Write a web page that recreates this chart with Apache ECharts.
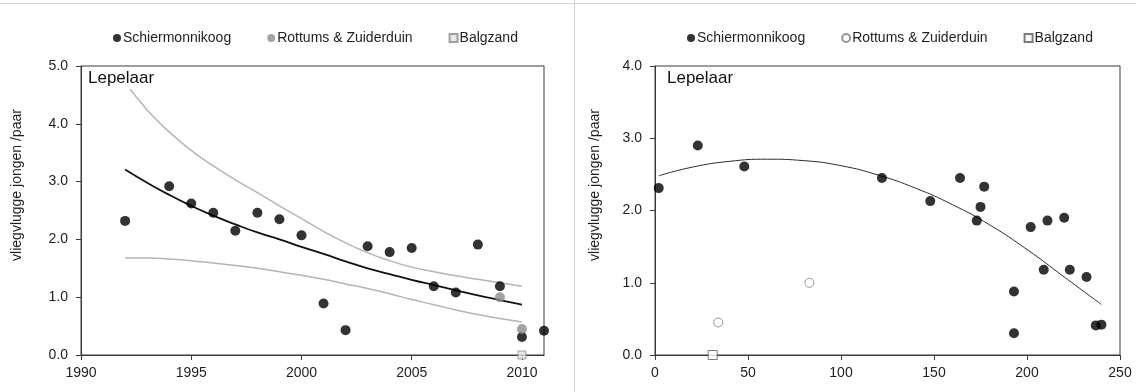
<!DOCTYPE html>
<html>
<head>
<meta charset="utf-8">
<script src="https://cdn.jsdelivr.net/npm/echarts@6/dist/echarts.min.js"></script>
<style>
  html, body { margin: 0; padding: 0; background: #fff; }
  #frame { position: absolute; left: 0; top: 3px; width: 1136px; height: 389px; border-top: 1px solid #d4d4d4; }
  #left { position: absolute; left: 0; top: 0; width: 574px; height: 392px; }
  #right { position: absolute; left: 574px; top: 0; width: 562px; height: 392px; border-left: 1px solid #d4d4d4; box-sizing: border-box; }
</style>
</head>
<body>
<div id="frame"></div>
<div id="left"></div>
<div id="right"></div>
<script>
// Lepelaar (spoonbill) breeding success: fledged young per pair
const FONT = '"Liberation Sans", Arial, sans-serif';
const names = ['Schiermonnikoog', 'Rottums & Zuiderduin', 'Balgzand'];
const yName = 'vliegvlugge jongen /paar';
const speciesLabel = 'Lepelaar';

// Panel 1: by year
const yearsSchier = [1992, 1994, 1995, 1996, 1997, 1998, 1999, 2000, 2001, 2002, 2003, 2004, 2005, 2006, 2007, 2008, 2009, 2010, 2011];
const valsSchier  = [2.32, 2.92, 2.62, 2.46, 2.15, 2.46, 2.35, 2.07, 0.89, 0.43, 1.88, 1.78, 1.85, 1.19, 1.08, 1.91, 1.19, 0.31, 0.42];
const yearsRottum = [2009, 2010];
const valsRottum  = [1.00, 0.45];
const yearsBalg   = [2010];
const valsBalg    = [0.0];

// fitted trend with its upper and lower band, read per year
const trendYears = [1992, 1993, 1994, 1995, 1996, 1997, 1998, 1999, 2000, 2001, 2002, 2003, 2004, 2005, 2006, 2007, 2008, 2009, 2010];
const trendFit   = [3.21, 2.98, 2.77, 2.58, 2.41, 2.26, 2.12, 2.00, 1.87, 1.75, 1.62, 1.50, 1.40, 1.30, 1.21, 1.12, 1.03, 0.95, 0.87];
const trendUpper = [4.72, 4.24, 3.86, 3.54, 3.27, 3.03, 2.81, 2.58, 2.36, 2.14, 1.94, 1.77, 1.63, 1.52, 1.44, 1.37, 1.31, 1.25, 1.19];
const trendLower = [1.68, 1.68, 1.66, 1.63, 1.59, 1.55, 1.50, 1.44, 1.38, 1.31, 1.23, 1.15, 1.06, 0.96, 0.87, 0.78, 0.70, 0.63, 0.57];

// Panel 2: by second variable (0-250)
const xSchier2 = [2, 23, 48, 122, 148, 164, 177, 175, 173, 202, 211, 220, 193, 193, 209, 223, 232, 237, 240];
const ySchier2 = [2.31, 2.90, 2.61, 2.45, 2.13, 2.45, 2.33, 2.05, 1.86, 1.77, 1.86, 1.90, 0.88, 0.30, 1.18, 1.18, 1.08, 0.41, 0.42];
const xRottum2 = [34, 83];
const yRottum2 = [0.45, 1.00];
const xBalg2   = [31];
const yBalg2   = [0.0];
const curveX   = [2, 20, 40, 60, 80, 100, 120, 140, 160, 180, 200, 220, 240];
const curveY   = [2.48, 2.60, 2.68, 2.71, 2.69, 2.62, 2.49, 2.31, 2.08, 1.80, 1.46, 1.08, 0.70];

const xAxisTicksLeft  = { min: 1990, max: 2011, interval: 5 };
const yAxisTicksLeft  = { min: 0, max: 5, interval: 1 };
const xAxisTicksRight = { min: 0, max: 250, interval: 50 };
const yAxisTicksRight = { min: 0, max: 4, interval: 1 };

const pairs = (xs, ys) => xs.map((x, i) => [x, ys[i]]);

const textColor = '#1e1e1e';
const axisColor = '#3a3a3a';

function axisX(t) {
  return {
    type: 'value', min: t.min, max: t.max, interval: t.interval,
    axisLine: { show: true, onZero: false, lineStyle: { color: axisColor, width: 1 } },
    axisTick: { show: true, length: 5, lineStyle: { color: axisColor } },
    axisLabel: { color: textColor, fontSize: 14, fontFamily: FONT, margin: 11,
                 showMaxLabel: t.max % t.interval === 0, formatter: v => String(v) },
    splitLine: { show: false }
  };
}
function axisY(t) {
  return {
    type: 'value', min: t.min, max: t.max, interval: t.interval,
    axisLine: { show: true, lineStyle: { color: axisColor, width: 1 } },
    axisTick: { show: true, length: 5, lineStyle: { color: axisColor } },
    axisLabel: { color: textColor, fontSize: 14, fontFamily: FONT, margin: 13, formatter: v => v.toFixed(1) },
    splitLine: { show: false }
  };
}
function legend(left) {
  return {
    left: left, top: 26, itemWidth: 8, itemHeight: 8, itemGap: 36,
    textStyle: { color: textColor, fontSize: 14, fontFamily: FONT, padding: [0, 0, 0, -3] },
    data: names
  };
}
function labels(lepX, nameX) {
  return [
    { type: 'text', left: lepX, top: 70, z: 100,
      style: { text: speciesLabel, fill: '#111', font: '17px ' + FONT, backgroundColor: '#fff', padding: [0, 2, 2, 0] } },
    { type: 'text', x: nameX, y: 185, rotation: Math.PI / 2, z: 100,
      style: { text: yName, fill: textColor, font: '14px ' + FONT, textAlign: 'center', textVerticalAlign: 'middle' } }
  ];
}
function curve(name, xs, ys, color, width, z) {
  return { type: 'line', name: name, data: pairs(xs, ys), smooth: 0.5, showSymbol: false,
           silent: true, lineStyle: { color: color, width: width }, z: z };
}

// Left panel
const left = echarts.init(document.getElementById('left'), null, { renderer: 'canvas' });
left.setOption({
  animation: false,
  grid: { left: 81, right: 30, top: 66, bottom: 37, show: true, borderColor: axisColor, borderWidth: 1, backgroundColor: 'transparent' },
  legend: legend(108),
  xAxis: axisX(xAxisTicksLeft),
  yAxis: axisY(yAxisTicksLeft),
  graphic: labels(88, 17),
  series: [
    curve('upper', trendYears, trendUpper, '#b4b4b4', 1.5, 1),
    curve('lower', trendYears, trendLower, '#b4b4b4', 1.5, 1),
    curve('fit', trendYears, trendFit, '#111', 1.8, 2),
    { type: 'scatter', name: names[0], data: pairs(yearsSchier, valsSchier), symbol: 'circle', symbolSize: 10,
      itemStyle: { color: '#000' }, z: 3 },
    { type: 'scatter', name: names[1], data: pairs(yearsRottum, valsRottum), symbol: 'circle', symbolSize: 10,
      itemStyle: { color: '#8c8c8c' }, z: 4 },
    { type: 'scatter', name: names[2], data: pairs(yearsBalg, valsBalg), symbol: 'rect', symbolSize: 8,
      itemStyle: { color: '#e2e2e2', borderColor: '#8c8c8c', borderWidth: 1 }, z: 4 }
  ]
});

// Right panel
const right = echarts.init(document.getElementById('right'), null, { renderer: 'canvas' });
right.setOption({
  animation: false,
  grid: { left: 80, right: 16, top: 66, bottom: 37, show: true, borderColor: axisColor, borderWidth: 1, backgroundColor: 'transparent' },
  legend: legend(107),
  xAxis: axisX(xAxisTicksRight),
  yAxis: axisY(yAxisTicksRight),
  graphic: labels(92, 20),
  series: [
    curve('fit', curveX, curveY, '#2a2a2a', 1, 1),
    { type: 'scatter', name: names[0], data: pairs(xSchier2, ySchier2), symbol: 'circle', symbolSize: 10,
      itemStyle: { color: '#000' }, z: 3 },
    { type: 'scatter', name: names[1], data: pairs(xRottum2, yRottum2), symbol: 'circle', symbolSize: 9,
      itemStyle: { color: '#ffffff', borderColor: '#7a7a7a', borderWidth: 1 }, z: 4 },
    { type: 'scatter', name: names[2], data: pairs(xBalg2, yBalg2), symbol: 'rect', symbolSize: 9,
      itemStyle: { color: '#ffffff', borderColor: '#5a5a5a', borderWidth: 1 }, z: 4 }
  ]
});
</script>
</body>
</html>
